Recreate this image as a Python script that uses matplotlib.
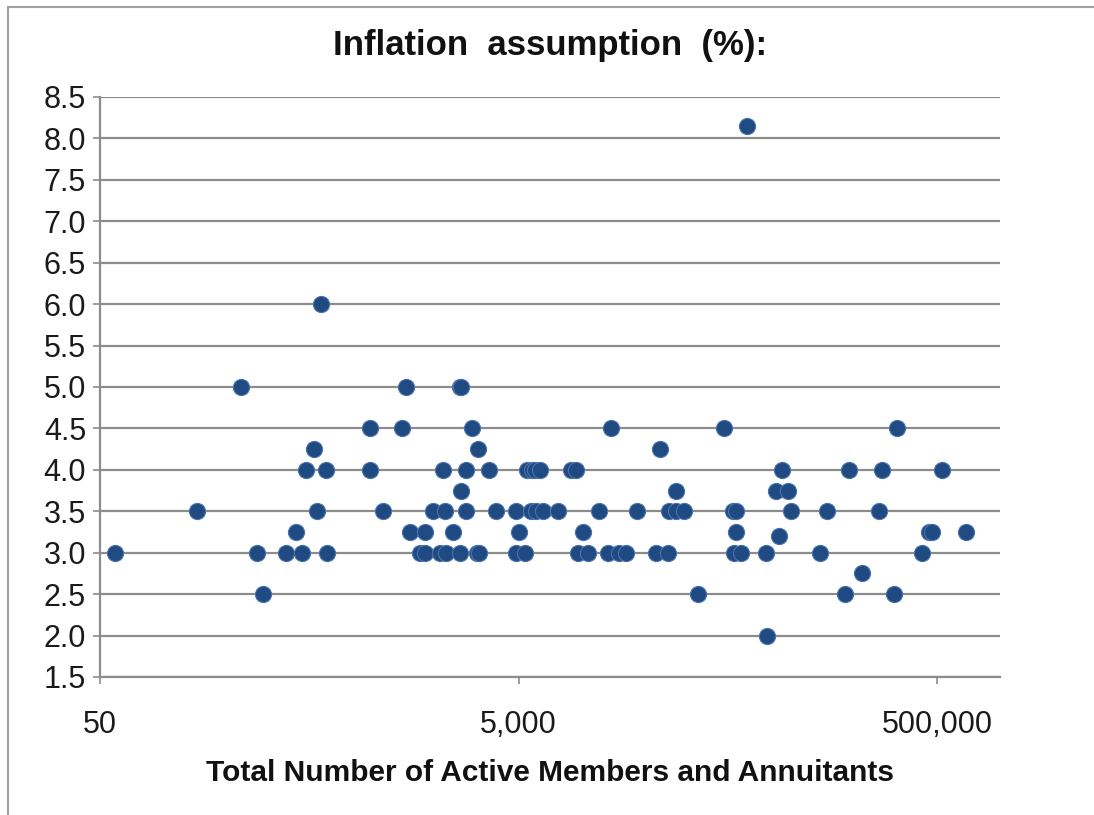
import matplotlib
matplotlib.use("Agg")
import matplotlib.pyplot as plt
from matplotlib.ticker import FixedLocator, NullLocator, FuncFormatter
from matplotlib.patches import Rectangle

plt.rcParams['font.family'] = ['Liberation Sans', 'DejaVu Sans']

# Data: (total members, inflation assumption %)
members_8p15 = [61700]
members_6p0 = [572]
members_5p0 = [235, 1444, 2620, 2660]
members_4p5 = [972, 1393, 2992, 13850, 47750, 323300]
members_4p25 = [525, 3197, 23820]
members_4p0 = [485, 600, 972, 2176, 2812, 3606, 5518, 5800, 6000, 6300,
               8926, 9428, 91300, 190100, 274100, 530000]
members_3p75 = [2664, 28290, 84950, 96500]
members_3p5 = [145, 547, 1125, 1950, 2218, 2812, 3913, 4874, 5751, 6076,
               6531, 7700, 12179, 18350, 26290, 28290, 31000, 52700, 54700,
               100150, 148700, 264200]
members_3p25 = [434, 1509, 1780, 2429, 5000, 10139, 54700, 458000, 472000, 685500]
members_3p2 = [87400]
members_3p0 = [59, 280, 389, 464, 608, 1684, 1780, 2099, 2259, 2615, 3150, 3230,
               4874, 5342, 9594, 10710, 13344, 15170, 16330, 22700, 25800,
               53700, 57800, 76000, 138200, 425400]
members_2p75 = [219900]
members_2p5 = [299, 36150, 181900, 311700]
members_2p0 = [76600]

groups = [
    (8.15, members_8p15), (6.0, members_6p0), (5.0, members_5p0),
    (4.5, members_4p5), (4.25, members_4p25), (4.0, members_4p0),
    (3.75, members_3p75), (3.5, members_3p5), (3.25, members_3p25),
    (3.2, members_3p2), (3.0, members_3p0), (2.75, members_2p75),
    (2.5, members_2p5), (2.0, members_2p0),
]
xs, ys = [], []
for rate, members in groups:
    xs.extend(members)
    ys.extend([rate] * len(members))

y_ticks = [1.5, 2.0, 2.5, 3.0, 3.5, 4.0, 4.5, 5.0, 5.5, 6.0, 6.5, 7.0, 7.5, 8.0, 8.5]
x_ticks = [50, 5000, 500000]
x_tick_labels = ["50", "5,000", "500,000"]

title = "Inflation  assumption  (%):"
xlabel = "Total Number of Active Members and Annuitants"

fig = plt.figure(figsize=(10.94, 8.15), dpi=100)
fig.patch.set_facecolor('white')
ax = fig.add_axes([100/1094, 1-677/815, 900/1094, 580/815])

ax.scatter(xs, ys, s=135, color='#1f4a82', edgecolors='#4a73ad', linewidths=0.8, zorder=3)

ax.set_xscale('log')
ax.set_xlim(50, 1000000)
ax.set_ylim(1.5, 8.5)
ax.xaxis.set_major_locator(FixedLocator(x_ticks))
ax.xaxis.set_minor_locator(NullLocator())
ax.set_xticklabels(x_tick_labels)
ax.set_yticks(y_ticks)
ax.yaxis.set_major_formatter(FuncFormatter(lambda v, p: f"{v:.1f}"))

grid_c = '#8c8c8c'
ax.grid(axis='y', color=grid_c, linewidth=1.6, zorder=0)
ax.set_axisbelow(True)
for s in ['top', 'right']:
    ax.spines[s].set_visible(False)
for s in ['left', 'bottom']:
    ax.spines[s].set_color(grid_c)
    ax.spines[s].set_linewidth(1.6)

ax.tick_params(axis='y', direction='out', length=5, width=1.2, color=grid_c,
               labelsize=22, pad=5, labelcolor='#1a1a1a')
ax.tick_params(axis='x', direction='out', length=5, width=1.2, color=grid_c,
               labelsize=22, pad=19, labelcolor='#1a1a1a')

fig.text(0.503, 1-46/815, title, ha='center', va='center', fontsize=25,
         fontweight='bold', color='#111111')
fig.text(0.503, 1-773/815, xlabel, ha='center', va='center', fontsize=21.5,
         fontweight='bold', color='#111111')

fig.patches.append(Rectangle((8/1094, -0.05), 1.2, 1.05 - 7/815,
                             transform=fig.transFigure, fill=False,
                             edgecolor='#a0a0a0', linewidth=1.5))

fig.savefig('out.png', dpi=100)
